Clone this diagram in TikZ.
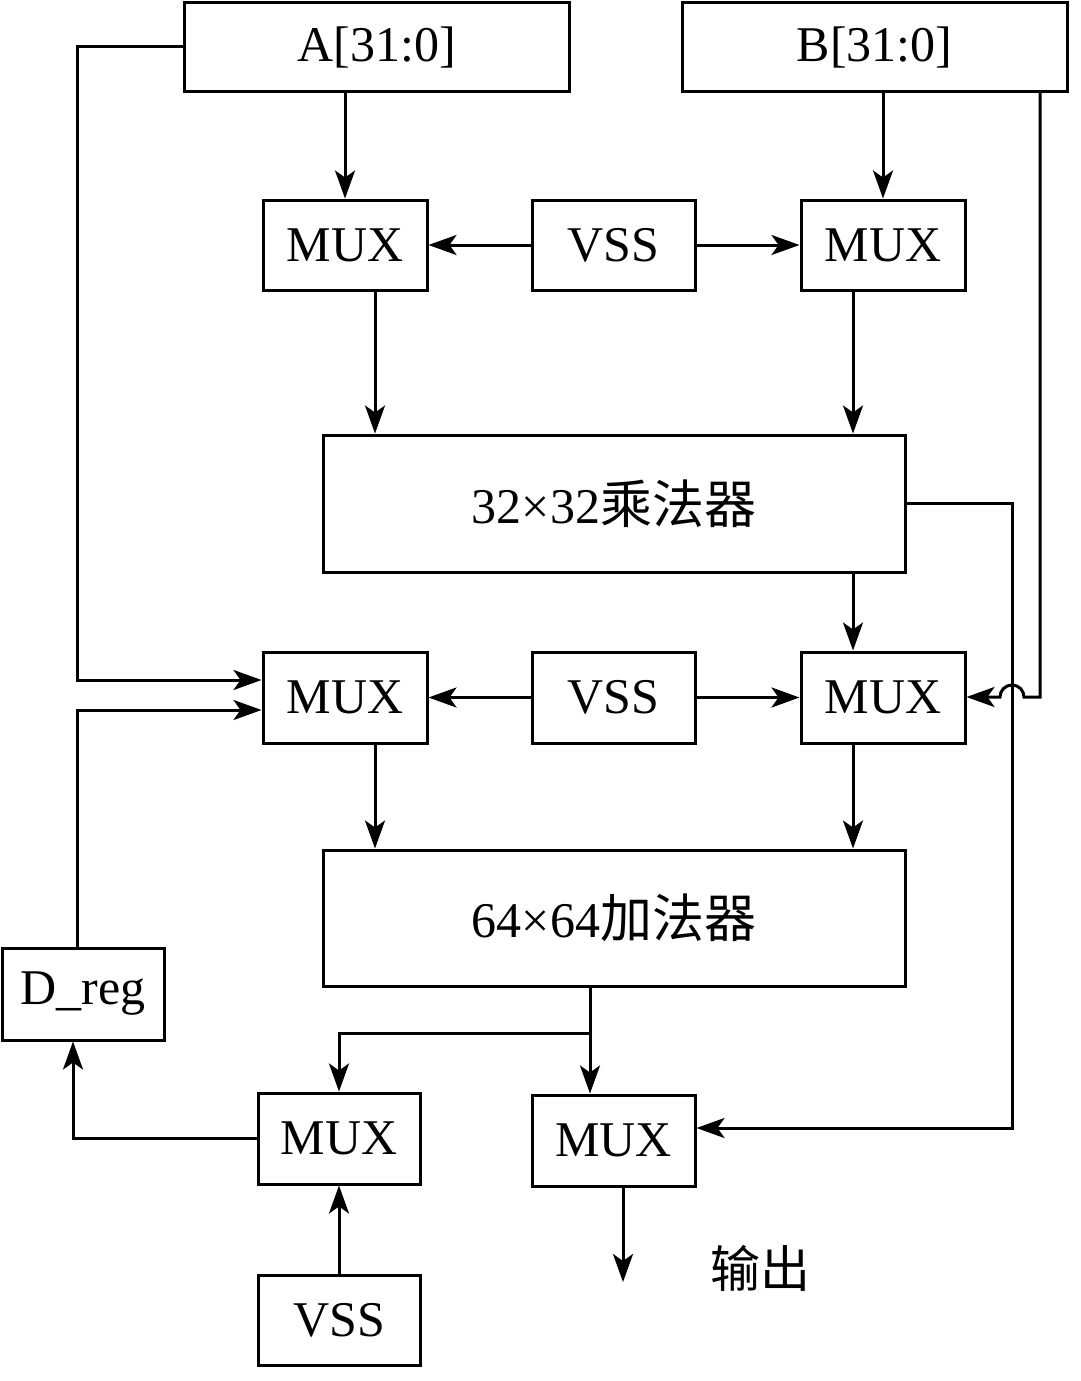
\documentclass[tikz,border=0pt]{standalone}
\usepackage{fontspec}
\setmainfont{Liberation Serif}
\newfontfamily\cjk{Noto Sans CJK SC}
\usetikzlibrary{arrows.meta}
\begin{document}
\begin{tikzpicture}[x=1pt,y=-1pt,
  blk/.style={draw, line width=3pt, inner sep=0pt, font=\fontsize{50}{60}\selectfont},
  wire/.style={line width=3pt},
  arr/.style={wire, -{Stealth[length=28pt,width=20pt,inset=7pt]}}]
\useasboundingbox (0,0) rectangle (1080,1381);
\node[blk, minimum width=385, minimum height=88] (A) at (376.5,47) {A[31:0]};
\node[blk, minimum width=385, minimum height=88] (B) at (874.5,47) {B[31:0]};
\node[blk, minimum width=164, minimum height=90] (m1) at (345,245) {MUX};
\node[blk, minimum width=163, minimum height=90] (v1) at (613.5,245) {VSS};
\node[blk, minimum width=164, minimum height=90] (m2) at (883,245) {MUX};
\node[blk, minimum width=582, minimum height=137] (mul) at (614,503.5) {32×32{\cjk\fontsize{52}{60}\selectfont 乘法器}};
\node[blk, minimum width=164, minimum height=91] (m3) at (345,697.5) {MUX};
\node[blk, minimum width=163, minimum height=91] (v2) at (613.5,697.5) {VSS};
\node[blk, minimum width=164, minimum height=91] (m4) at (883,697.5) {MUX};
\node[blk, minimum width=582, minimum height=136] (add) at (614,918) {64×64{\cjk\fontsize{52}{60}\selectfont 加法器}};
\node[blk, minimum width=162, minimum height=92] (D) at (83,994) {D\_reg};
\node[blk, minimum width=162, minimum height=91] (m5) at (339,1138.5) {MUX};
\node[blk, minimum width=163, minimum height=91] (m6) at (613.5,1140.5) {MUX};
\node[blk, minimum width=162, minimum height=90] (v3) at (339,1320) {VSS};
\node[font=\fontsize{50}{60}\selectfont\cjk, inner sep=0pt] (out) at (760,1268) {输出};

% inputs to first MUXes
\draw[arr] (m1.north |- A.south) -- (m1.north);
\draw[arr] (m2.north |- B.south) -- (m2.north);
\draw[arr] (v1.west) -- (m1.east);
\draw[arr] (v1.east) -- (m2.west);
\draw[arr] ([xshift=30]m1.south) -- ([xshift=30]m1.south |- mul.north);
\draw[arr] ([xshift=-30]m2.south) -- ([xshift=-30]m2.south |- mul.north);

% left feed lines
\coordinate (la) at (77,680);
\coordinate (lb) at (77,710);
\draw[arr] (A.west) -| (la) -- (la -| m3.west);
\draw[arr] (D.north -| lb) -- (lb) -- (lb -| m3.west);

% middle row
\draw[arr] ([xshift=-30]m4.north |- mul.south) -- ([xshift=-30]m4.north);
\draw[arr] (v2.west) -- (m3.east);
\draw[arr] (v2.east) -- (m4.west);
\draw[arr] ([xshift=30]m3.south) -- ([xshift=30]m3.south |- add.north);
\draw[arr] ([xshift=-30]m4.south) -- ([xshift=-30]m4.south |- add.north);

% multiplier output bypass to final MUX
\coordinate (r1) at (1012,503.5);
\coordinate (r2) at (1012,1128);
\draw[arr] (mul.east) -- (r1) -- (r2) -- (r2 -| m6.east);

% B bypass with hop
\coordinate (bc) at (1040,697);
\draw[arr] (bc |- B.south) -- (bc) -- (1024,697) arc[start angle=0, end angle=180, radius=12pt] -- (m4.east |- bc);

% adder outputs
\coordinate (s1) at (590,1033);
\draw[wire] ([xshift=-24]add.south) -- (s1);
\draw[arr] (s1) -- (s1 |- m6.north);
\draw[arr] (s1) -| (m5.north);

% feedback to D_reg
\coordinate (f1) at (73,1138.5);
\draw[arr] (m5.west) -- (f1) -- (f1 |- D.south);
\draw[arr] (v3.north) -- (m5.south);

% output
\coordinate (o1) at (623,1282);
\draw[arr] (o1 |- m6.south) -- (o1);
\end{tikzpicture}
\end{document}
